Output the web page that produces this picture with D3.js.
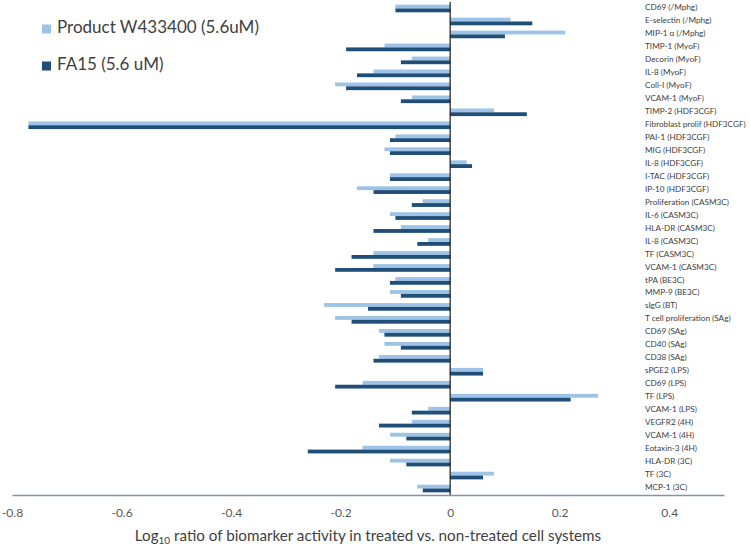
<!DOCTYPE html>
<html>
<head>
<meta charset="utf-8">
<script src="https://cdn.jsdelivr.net/npm/d3@7"></script>
<style>
  html, body { margin: 0; padding: 0; background: #fff; }
  svg { display: block; }
  text { font-family: Lato, "Open Sans", sans-serif; }
</style>
</head>
<body>
<svg id="chart" width="750" height="546"></svg>
<script>
const categories = [
  "CD69 (/Mphg)", "E-selectin (/Mphg)", "MIP-1 \u03b1 (/Mphg)", "TIMP-1 (MyoF)", "Decorin (MyoF)",
  "IL-8 (MyoF)", "Coll-I (MyoF)", "VCAM-1 (MyoF)", "TIMP-2 (HDF3CGF)", "Fibroblast prolif (HDF3CGF)",
  "PAI-1 (HDF3CGF)", "MIG (HDF3CGF)", "IL-8 (HDF3CGF)", "I-TAC (HDF3CGF)", "IP-10 (HDF3CGF)",
  "Proliferation (CASM3C)", "IL-6 (CASM3C)", "HLA-DR (CASM3C)", "IL-8 (CASM3C)", "TF (CASM3C)",
  "VCAM-1 (CASM3C)", "tPA (BE3C)", "MMP-9 (BE3C)", "sIgG (BT)", "T cell proliferation (SAg)",
  "CD69 (SAg)", "CD40 (SAg)", "CD38 (SAg)", "sPGE2 (LPS)", "CD69 (LPS)",
  "TF (LPS)", "VCAM-1 (LPS)", "VEGFR2 (4H)", "VCAM-1 (4H)", "Eotaxin-3 (4H)",
  "HLA-DR (3C)", "TF (3C)", "MCP-1 (3C)"
];
const seriesNames = ["Product W433400 (5.6uM)", "FA15 (5.6 uM)"];
const productW433400 = [
  -0.10, 0.11, 0.21, -0.12, -0.07,
  -0.14, -0.21, -0.07, 0.08, -0.77,
  -0.10, -0.12, 0.03, -0.11, -0.17,
  -0.05, -0.11, -0.09, -0.04, -0.14,
  -0.14, -0.10, -0.11, -0.23, -0.21,
  -0.13, -0.12, -0.13, 0.06, -0.16,
  0.27, -0.04, -0.07, -0.11, -0.16,
  -0.11, 0.08, -0.06
];
const fa15 = [
  -0.10, 0.15, 0.10, -0.19, -0.09,
  -0.17, -0.19, -0.09, 0.14, -0.77,
  -0.11, -0.11, 0.04, -0.11, -0.14,
  -0.07, -0.10, -0.14, -0.06, -0.18,
  -0.21, -0.11, -0.09, -0.15, -0.18,
  -0.12, -0.09, -0.14, 0.06, -0.21,
  0.22, -0.07, -0.13, -0.08, -0.26,
  -0.08, 0.06, -0.05
];
const xTicks = [-0.8, -0.6, -0.4, -0.2, 0, 0.2, 0.4];
const seriesColors = ["#9DC3E6", "#1F4E79"];

const svg = d3.select("#chart");
const x = d3.scaleLinear().domain([-0.8, 0.5]).range([12, 724]);
const y = d3.scaleBand().domain(categories).range([2, 495]).paddingInner(0.41).paddingOuter(0.205);
const ySub = d3.scaleBand().domain([0, 1]).range([0, y.bandwidth()]);

const data = categories.map((c, i) => ({ cat: c, vals: [productW433400[i], fa15[i]] }));

// bars
const groups = svg.append("g").selectAll("g").data(data).join("g")
  .attr("transform", d => `translate(0,${y(d.cat)})`);
groups.selectAll("rect").data(d => d.vals.map((v, k) => ({ v, k }))).join("rect")
  .attr("x", d => x(Math.min(0, d.v)))
  .attr("width", d => Math.abs(x(d.v) - x(0)))
  .attr("y", d => ySub(d.k))
  .attr("height", ySub.bandwidth())
  .attr("fill", d => seriesColors[d.k]);

// zero line
svg.append("line")
  .attr("x1", x(0)).attr("x2", x(0))
  .attr("y1", 2).attr("y2", 495)
  .attr("stroke", "#1a1a1a").attr("stroke-width", 1.2);

// bottom axis
const axis = d3.axisBottom(x).tickValues(xTicks).tickSize(0).tickPadding(13)
  .tickFormat(d => d === 0 ? "0" : d.toFixed(1));
const gx = svg.append("g").attr("transform", "translate(0,495)").call(axis);
gx.select(".domain").attr("stroke", "#7f93b0").attr("stroke-width", 1.3);
gx.selectAll("text").attr("font-size", 12).attr("fill", "#595959")
  .style("font-family", "Lato, 'Open Sans', sans-serif");

// category labels
svg.append("g").selectAll("text").data(categories).join("text")
  .attr("x", 645)
  .attr("y", d => y(d) + y.bandwidth() / 2 - 0.5)
  .attr("dominant-baseline", "middle")
  .attr("font-size", 8.2)
  .attr("fill", "#404040")
  .text(d => d);

// axis title
const title = svg.append("text")
  .attr("x", 368).attr("y", 541)
  .attr("text-anchor", "middle")
  .attr("font-size", 15.2)
  .attr("fill", "#404040");
title.append("tspan").text("Log");
title.append("tspan").attr("font-size", 10).attr("dy", 3).text("10");
title.append("tspan").attr("dy", -3).text(" ratio of biomarker activity in treated vs. non-treated cell systems");

// legend
const legend = svg.append("g").selectAll("g").data(seriesNames).join("g")
  .attr("transform", (d, i) => `translate(42,${29 + i * 37})`);
legend.append("rect").attr("x", 0).attr("y", -4.5).attr("width", 9).attr("height", 9)
  .attr("fill", (d, i) => seriesColors[i]);
legend.append("text").attr("x", 15).attr("y", 0).attr("dominant-baseline", "middle")
  .attr("font-size", 17).attr("fill", "#404040").text(d => d);
</script>
</body>
</html>
